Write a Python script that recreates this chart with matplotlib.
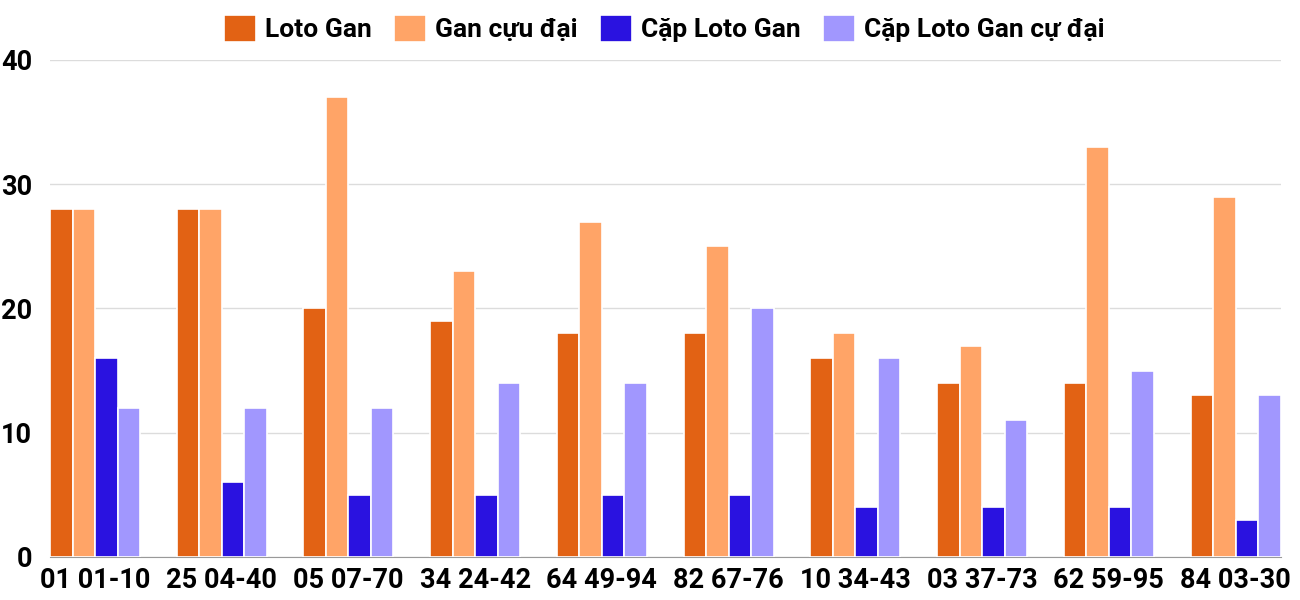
import numpy as np
import matplotlib
matplotlib.use("Agg")
import matplotlib.pyplot as plt

plt.rcParams['font.family'] = ['Roboto', 'DejaVu Sans']

# data
labels = ["01 01-10", "25 04-40", "05 07-70", "34 24-42", "64 49-94",
          "82 67-76", "10 34-43", "03 37-73", "62 59-95", "84 03-30"]
loto_gan = [28, 28, 20, 19, 18, 18, 16, 14, 14, 13]
gan_cuc_dai = [28, 28, 37, 23, 27, 25, 18, 17, 33, 29]
cap_loto_gan = [16, 6, 5, 5, 5, 5, 4, 4, 4, 3]
cap_cuc_dai = [12, 12, 12, 14, 14, 20, 16, 11, 15, 13]

series = [
    ("Loto Gan", loto_gan, "#E26214"),
    ("Gan cựu đại", gan_cuc_dai, "#FFA467"),
    ("Cặp Loto Gan", cap_loto_gan, "#2A12E0"),
    ("Cặp Loto Gan cự đại", cap_cuc_dai, "#A197FE"),
]

fig = plt.figure(figsize=(13, 6), dpi=100)
ax = fig.add_axes([0.0385, 0.0717, 0.9465, 0.8283])

x = np.arange(len(labels))
w = 0.1775
for k, (name, vals, col) in enumerate(series):
    ax.bar(x - 1.5 * w + k * w, vals, width=w, color=col, edgecolor="white",
           linewidth=1.2, label=name, zorder=3)

ax.set_xlim(-0.355, len(labels) - 1 + 0.355)
ax.set_ylim(0, 40)
ax.set_yticks([0, 10, 20, 30, 40])
ax.yaxis.grid(True, color="#dcdcdc", linewidth=1, zorder=0)
ax.set_xticks(x)
ax.set_xticklabels(labels)
ax.tick_params(axis="both", length=0, labelsize=19.5)
ax.tick_params(axis="y", pad=13)
ax.tick_params(axis="x", pad=7)
for t in ax.get_xticklabels() + ax.get_yticklabels():
    t.set_fontweight("bold")
for s in ["top", "right", "left"]:
    ax.spines[s].set_visible(False)
ax.spines["bottom"].set_color("#999999")

leg = fig.legend(loc="upper center", bbox_to_anchor=(0.511, 1.015), ncol=4,
                 frameon=False, prop={"weight": "bold", "size": 19},
                 handlelength=1.2, handleheight=1.2, columnspacing=0.85,
                 handletextpad=0.35)

fig.savefig("out.png", dpi=100, facecolor="white")
